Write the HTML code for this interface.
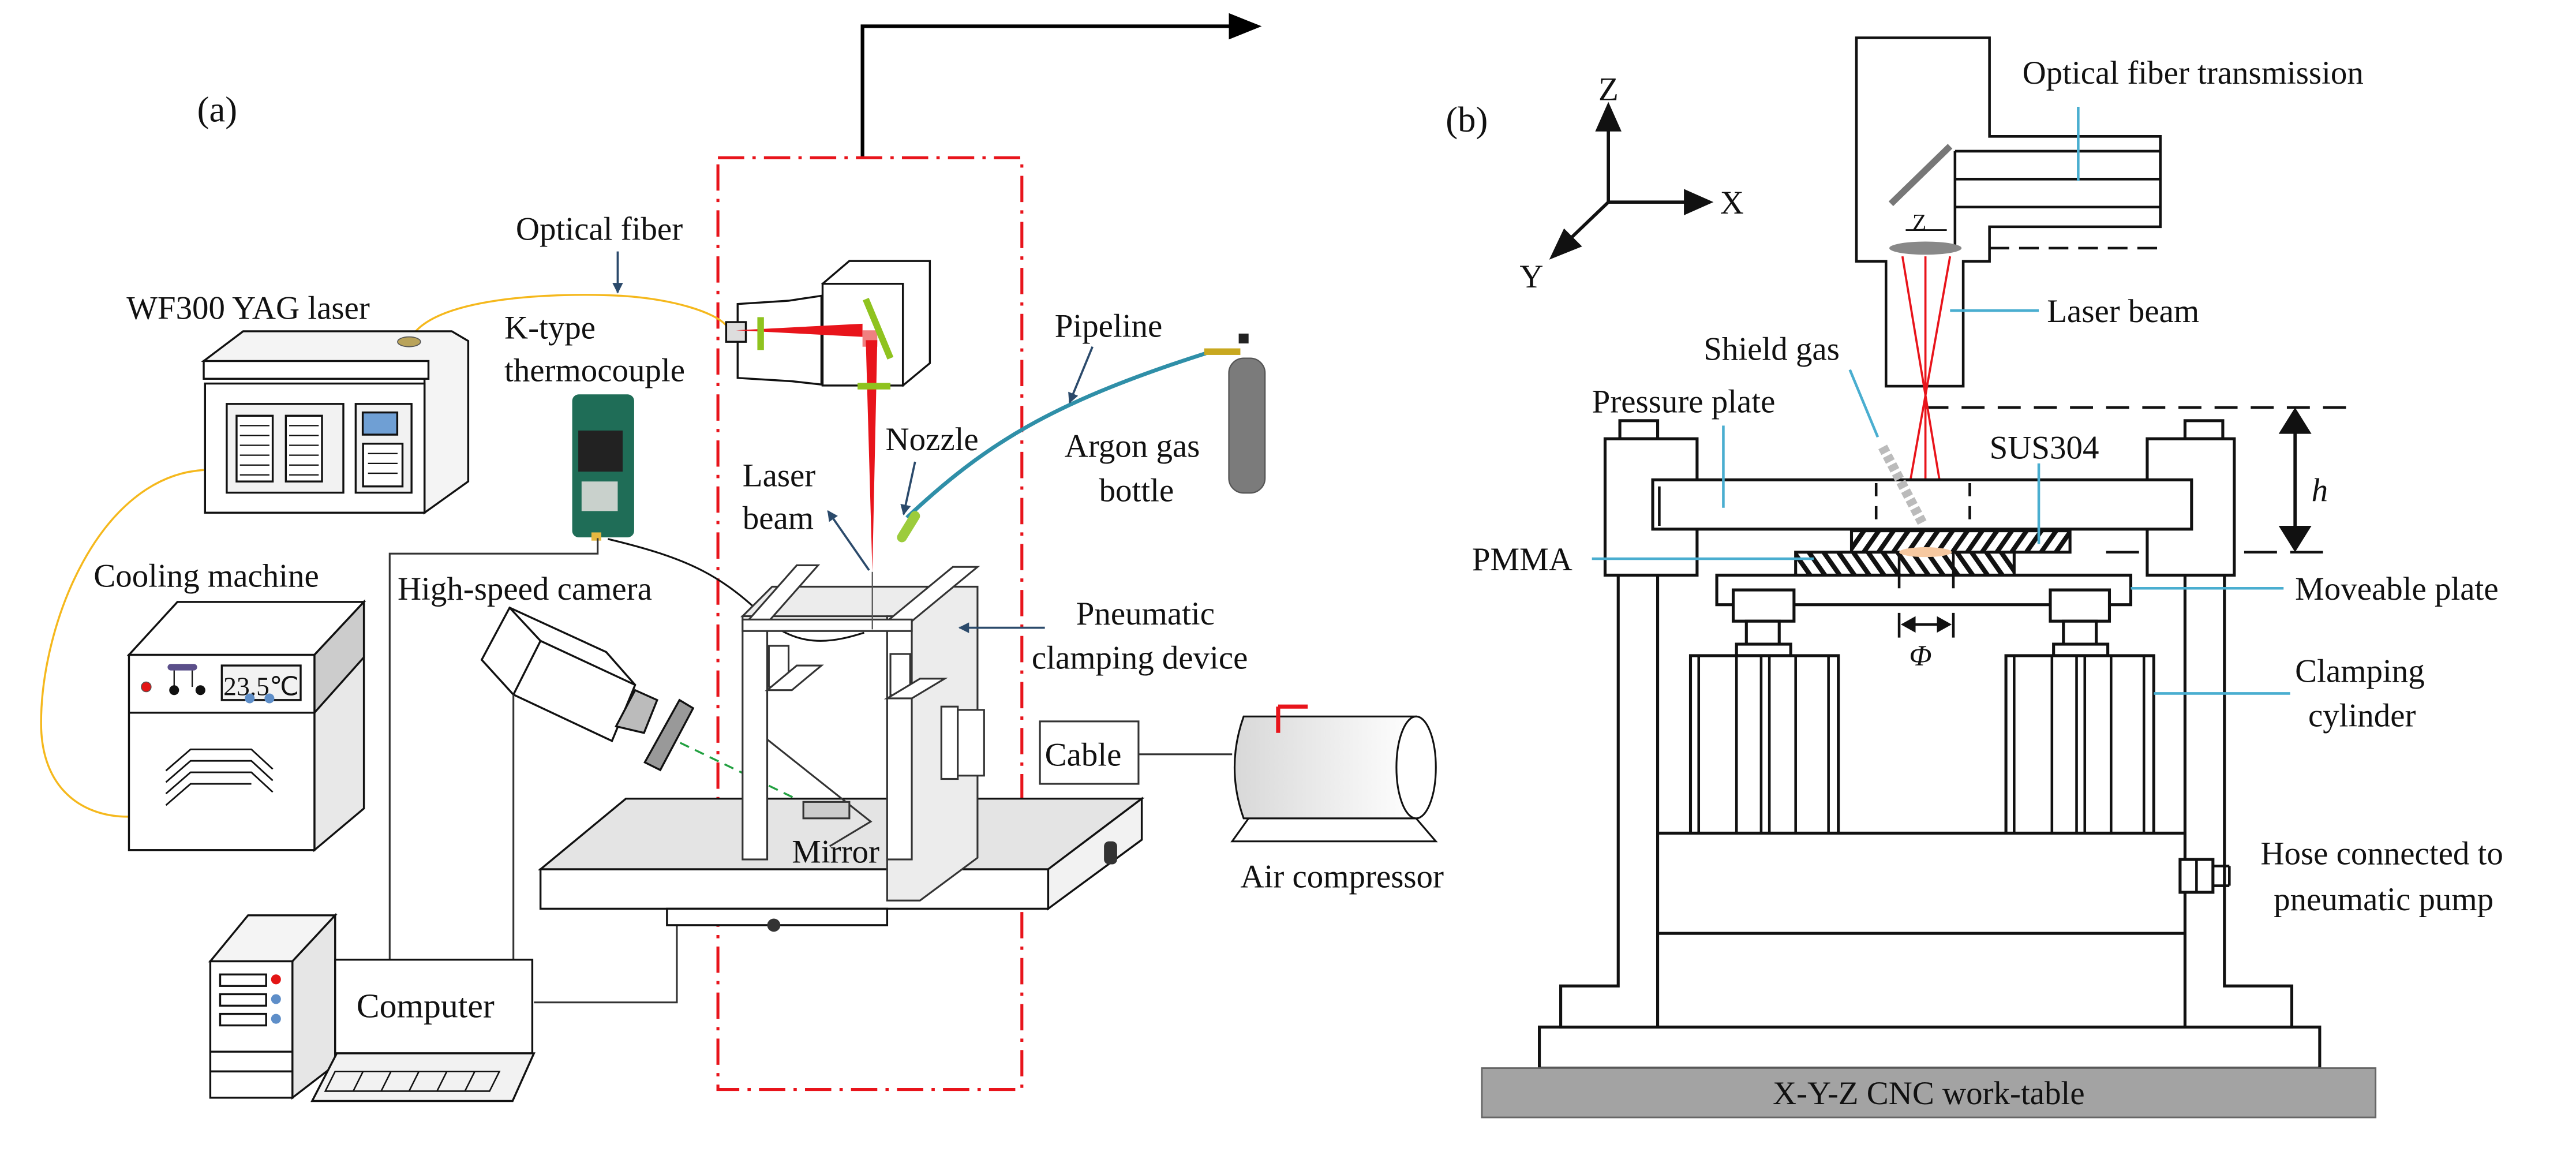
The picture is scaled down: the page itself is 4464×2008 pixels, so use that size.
<!DOCTYPE html>
<html><head><meta charset="utf-8"><style>
html,body{margin:0;padding:0;background:#fff}
svg{display:block}
text{font-family:"Liberation Serif","Times New Roman",serif !important;fill:#111}
</style></head><body>
<svg width="4464" height="2008" viewBox="0 0 1568 705.3" preserveAspectRatio="none" xmlns="http://www.w3.org/2000/svg" font-family="Liberation Serif, serif">
<defs>
<marker id="ab" viewBox="0 0 10 10" refX="9" refY="5" markerWidth="5" markerHeight="5" orient="auto"><path d="M0,0L10,5L0,10z" fill="#2b4a6b"/></marker>
<pattern id="h1" width="9" height="14" patternUnits="userSpaceOnUse" patternTransform="skewX(-35)"><rect width="9" height="14" fill="#fff"/><rect width="3.5" height="14" fill="#111"/></pattern>
<pattern id="h2" width="9" height="14" patternUnits="userSpaceOnUse" patternTransform="skewX(35)"><rect width="9" height="14" fill="#fff"/><rect width="3.5" height="14" fill="#111"/></pattern>
<linearGradient id="gc" x1="0" x2="1"><stop offset="0" stop-color="#d8d8d8"/><stop offset="1" stop-color="#fff"/></linearGradient>
</defs>

<!-- ===== Panel (a) ===== -->
<text x="120" y="74" font-size="22">(a)</text>
<path d="M525,96 V16 H750" fill="none" stroke="#000" stroke-width="2.2"/>
<path d="M748,8 L768,16 L748,24 z" fill="#000"/>
<rect x="437" y="96" width="185" height="567" fill="none" stroke="#e8141b" stroke-width="1.8" stroke-dasharray="16,5,2,5"/>

<text x="314" y="146" font-size="20">Optical fiber</text>
<line x1="376" y1="153" x2="376" y2="178" stroke="#2b4a6b" stroke-width="1.3" marker-end="url(#ab)"/>
<text x="77" y="194" font-size="20">WF300 YAG laser</text>
<text x="307" y="206" font-size="20">K-type</text>
<text x="307" y="232" font-size="20">thermocouple</text>
<text x="57" y="357" font-size="20">Cooling machine</text>
<text x="242" y="365" font-size="20">High-speed camera</text>
<text x="539" y="274" font-size="20">Nozzle</text>
<text x="452" y="296" font-size="20">Laser</text>
<text x="452" y="322" font-size="20">beam</text>
<text x="642" y="205" font-size="20">Pipeline</text>
<text x="648" y="278" font-size="20">Argon gas</text>
<text x="669" y="305" font-size="20">bottle</text>
<text x="655" y="380" font-size="20">Pneumatic</text>
<text x="628" y="407" font-size="20">clamping device</text>

<path d="M249,208 C260,180 340,178 378,180 C410,182 435,190 442,198" fill="none" stroke="#f5b81c" stroke-width="1.2"/>
<path d="M124,286 C60,290 25,380 25,440 C25,480 50,497 78,497" fill="none" stroke="#f5b81c" stroke-width="1.2"/>

<!-- laser machine -->
<g stroke="#111" stroke-width="1.2" fill="#fff">
<path d="M124,219.7 L148,201.6 L275,201.6 L285,207.5 L285,293 L258.4,312 L258.4,230.5 z" fill="#f4f4f4"/>
<rect x="124" y="219.7" width="136.8" height="10.8"/>
<rect x="124.8" y="233.4" width="133.6" height="78.6"/>
<rect x="138" y="245.8" width="71" height="54" fill="#f2f2f2"/>
<rect x="144" y="253" width="22" height="40"/><rect x="174" y="253" width="22" height="40"/>
<rect x="216.5" y="245.8" width="34" height="54" fill="#f2f2f2"/>
<rect x="220.8" y="251" width="21" height="13.5" fill="#6f9fd4"/>
<rect x="221" y="270" width="24" height="26"/>
</g>
<g stroke="#111" stroke-width="0.8">
<line x1="146" y1="259" x2="164" y2="259"/><line x1="146" y1="265" x2="164" y2="265"/><line x1="146" y1="271" x2="164" y2="271"/><line x1="146" y1="277" x2="164" y2="277"/><line x1="146" y1="283" x2="164" y2="283"/><line x1="146" y1="289" x2="164" y2="289"/>
<line x1="176" y1="259" x2="194" y2="259"/><line x1="176" y1="265" x2="194" y2="265"/><line x1="176" y1="271" x2="194" y2="271"/><line x1="176" y1="277" x2="194" y2="277"/><line x1="176" y1="283" x2="194" y2="283"/><line x1="176" y1="289" x2="194" y2="289"/>
<line x1="224" y1="276" x2="242" y2="276"/><line x1="224" y1="282" x2="242" y2="282"/><line x1="224" y1="288" x2="242" y2="288"/>
</g>
<ellipse cx="249" cy="208" rx="7" ry="3" fill="#b9a35a" stroke="#555" stroke-width="0.6"/>

<!-- thermocouple -->
<rect x="348.3" y="240" width="37.7" height="87" rx="4" fill="#1f6d57"/>
<rect x="352" y="262" width="27" height="25" fill="#222"/>
<rect x="354" y="293" width="22" height="18" fill="#c9d1cc"/>
<rect x="360" y="324" width="6" height="5" fill="#e6b840"/>

<!-- cooling machine -->
<g stroke="#111" stroke-width="1.2">
<path d="M78.5,398.5 L108,366.3 L221.5,366.3 L191.4,398.5 z" fill="#fff"/>
<path d="M191.4,398.5 L221.5,366.3 L221.5,492 L191.4,517.3 z" fill="#e8e8e8"/>
<path d="M191.4,398.5 L221.5,366.3 L221.5,400 L191.4,433.7 z" fill="#ccc"/>
<rect x="78.5" y="398.5" width="112.9" height="118.8" fill="#fff"/>
<line x1="78.5" y1="433.7" x2="191.4" y2="433.7"/>
<rect x="135" y="405" width="48" height="21" fill="#f2f2f2"/>
</g>
<text x="136" y="423" font-size="16">23.5℃</text>
<circle cx="89" cy="418" r="3" fill="#e31414" stroke="#555" stroke-width="0.5"/>
<rect x="102" y="404" width="18" height="4" rx="2" fill="#5b4f8a"/>
<g stroke="#111" stroke-width="0.8"><line x1="106" y1="408" x2="106" y2="418"/><line x1="117" y1="408" x2="117" y2="418"/></g>
<circle cx="106" cy="420" r="3" fill="#111"/><circle cx="122" cy="420" r="3" fill="#111"/>
<circle cx="152" cy="425" r="3" fill="#5e8ec8"/><circle cx="164" cy="425" r="3" fill="#5e8ec8"/>
<g fill="none" stroke="#111" stroke-width="1">
<path d="M101,469 L116,456 H153 L166,468"/><path d="M101,476 L116,463 H153 L166,475"/><path d="M101,483 L116,470 H153 L166,482"/><path d="M101,490 L116,477 H153"/>
</g>

<!-- camera -->
<g stroke="#111" stroke-width="1.2" fill="#fff">
<path d="M310.2,369.8 L369,396.8 L386.6,416.8 L372.5,450.9 L312.5,422.7 L293.2,401.5 z"/>
<path d="M329,390 L312.5,422.7" fill="none"/><path d="M310.2,369.8 L329,390 L386.6,416.8" fill="none"/>
<path d="M386.6,420 L400,426 L392,446 L375,442 z" fill="#bbb"/>
<path d="M413.6,426 L421.9,431 L401.9,468.6 L392.5,463.9 z" fill="#999"/>
</g>
<line x1="414" y1="452" x2="507" y2="497" stroke="#22a040" stroke-width="1.2" stroke-dasharray="6,4"/>

<g fill="none" stroke="#333" stroke-width="1.1">
<path d="M363.8,327.5 V336.9 H237.2 V585"/>
<path d="M312.5,422.7 V585"/>
<path d="M325,610 H412 V562"/>
<path d="M690,459 H750"/>
</g>
<path d="M370,328 C420,340 440,350 470,380 C490,395 510,390 526,385" fill="none" stroke="#111" stroke-width="1.1"/>

<!-- computer -->
<g stroke="#111" stroke-width="1.2" fill="#fff">
<path d="M128,585 L151,557 L204,557 L178,585 z" fill="#f4f4f4"/>
<path d="M178,585 L204,557 L204,648 L178,668 z" fill="#e6e6e6"/>
<rect x="128" y="585" width="50" height="83"/>
<rect x="134" y="593" width="28" height="7"/><rect x="134" y="605" width="28" height="7"/><rect x="134" y="617" width="28" height="7"/>
<line x1="128" y1="640" x2="178" y2="640"/><line x1="128" y1="652" x2="178" y2="652"/>
<rect x="204" y="584" width="120" height="57" fill="#fff"/>
<path d="M205,641 H325 L312,670 H190 z" fill="#f2f2f2"/>
</g>
<circle cx="168" cy="596" r="3" fill="#e31414"/><circle cx="168" cy="608" r="3" fill="#5e8ec8"/><circle cx="168" cy="620" r="3" fill="#5e8ec8"/>
<g stroke="#111" stroke-width="0.9" fill="none"><path d="M204,652 H304 L298,664 H198 z"/><path d="M221,652 L215,664 M238,652 L232,664 M255,652 L249,664 M272,652 L266,664 M289,652 L283,664"/></g>
<text x="217" y="619" font-size="21">Computer</text>

<!-- table -->
<g stroke="#111" stroke-width="1.2">
<path d="M329,529 L381,486 L695,486 L638,529 z" fill="#e4e4e4"/>
<path d="M638,529 L695,486 L695,511 L638,553 z" fill="#f2f2f2"/>
<rect x="329" y="529" width="309" height="24" fill="#fff"/>
<rect x="406" y="553" width="134" height="10" fill="#fff"/>
</g>
<rect x="672" y="512" width="8" height="14" rx="3" fill="#333"/>
<circle cx="471" cy="563" r="4" fill="#333"/>

<!-- clamping device -->
<g stroke="#333" stroke-width="1.1">
<path d="M452,375 L470,357 L595,357 L595,522 L560,548 L540,548 L540,375 z" fill="#ececec"/>
<rect x="452" y="375" width="15" height="148" fill="#fff"/>
<rect x="540" y="375" width="15" height="148" fill="#fff"/>
<path d="M455,378 L485,344 L498,344 L468,378 z" fill="#fff"/>
<path d="M540,378 L580,345 L595,345 L555,378 z" fill="#fff"/>
<rect x="452" y="377" width="103" height="7" fill="#fff"/>
<path d="M468,393 H480 V418 H468 z" fill="#fff"/><path d="M542,398 H554 V423 H542 z" fill="#fff"/>
<path d="M467,420 L485,405 H500 L482,420 z" fill="#fff"/>
<path d="M540,425 L560,413 H575 L555,425 z" fill="#fff"/>
<path d="M467,450 L530,500 L505,515" fill="none"/>
<rect x="489" y="488" width="28" height="10" fill="#ccc"/>
<rect x="573" y="430" width="10" height="44" fill="#fff"/><rect x="583" y="432" width="16" height="40" fill="#fff"/>
<rect x="633" y="439" width="60" height="38" fill="#fff"/>
</g>
<text x="636" y="466" font-size="20">Cable</text>
<text x="482" y="525" font-size="20">Mirror</text>

<!-- laser head -->
<g stroke="#111" stroke-width="1.2">
<path d="M449,185 L480,183 L500,180 L500,234 L482,232 L449,230 z" fill="#fff"/>
<rect x="442" y="196" width="12" height="12" fill="#ddd"/>
<path d="M500.7,172.7 L517,158.8 L566,158.8 L566,221 L549.6,234.6 z" fill="#fff"/>
<rect x="500.7" y="172.7" width="48.9" height="61.9" fill="#fff"/>
</g>
<path d="M448,201 L525,197 L525,205 z" fill="#e8141b"/>
<rect x="525" y="201" width="9" height="10" fill="#f08080"/>
<path d="M527,207 L534,207 L531,348 z" fill="#e8141b"/>
<line x1="531" y1="348" x2="531" y2="383" stroke="#555" stroke-width="0.8"/>
<line x1="527" y1="182" x2="542" y2="218" stroke="#8fc31f" stroke-width="4"/>
<rect x="522" y="233" width="20" height="4" fill="#8fc31f"/>
<rect x="461" y="193" width="4" height="20" fill="#8fc31f"/>

<!-- nozzle & pipe -->
<path d="M552,315 C600,270 640,245 734,215" fill="none" stroke="#2f8fa8" stroke-width="2.4"/>
<line x1="549" y1="327" x2="557" y2="314" stroke="#9ccc3c" stroke-width="6" stroke-linecap="round"/>
<rect x="748" y="218" width="22" height="82" rx="9" fill="#7b7b7b" stroke="#555" stroke-width="0.8"/>
<rect x="733" y="212" width="22" height="4" fill="#c8a820"/>
<rect x="754" y="203" width="6" height="6" fill="#222"/>
<line x1="665" y1="211" x2="651" y2="245" stroke="#2b4a6b" stroke-width="1.3" marker-end="url(#ab)"/>
<line x1="557" y1="281" x2="550" y2="313" stroke="#2b4a6b" stroke-width="1.3" marker-end="url(#ab)"/>
<line x1="529" y1="347" x2="504" y2="311" stroke="#2b4a6b" stroke-width="1.3" marker-end="url(#ab)"/>
<line x1="636" y1="382" x2="584" y2="382" stroke="#2b4a6b" stroke-width="1.3" marker-end="url(#ab)"/>

<!-- compressor -->
<g stroke="#111" stroke-width="1.1">
<path d="M750,512 L760,498 L862,498 L874,512 z" fill="#fff"/>
<path d="M757,436 H862 V498 H757 Q746,467 757,436 z" fill="url(#gc)"/>
<ellipse cx="862" cy="467" rx="12" ry="31" fill="#fff"/>
</g>
<path d="M778,430 V446 M778,430 H796" stroke="#e8141b" stroke-width="2.5" fill="none"/>
<text x="755" y="540" font-size="20">Air compressor</text>

<!-- ===== Panel (b) ===== -->
<text x="880" y="80" font-size="22">(b)</text>
<g stroke="#111" stroke-width="2">
<line x1="979" y1="123" x2="979" y2="78"/><line x1="979" y1="123" x2="1030" y2="123"/><line x1="979" y1="123" x2="955" y2="146"/>
</g>
<path d="M979,62 L971,80 L987,80 z M1043,123 L1025,115 L1025,131 z M943,158 L952,139 L963,150 z" fill="#111"/>
<text x="973" y="61" font-size="20">Z</text><text x="1047" y="130" font-size="20">X</text><text x="925" y="175" font-size="20">Y</text>

<g fill="none" stroke="#111" stroke-width="1.6">
<path d="M1130,23 H1211 V83 H1315 V138 H1211 V159 H1195 V235 H1148 V159 H1130 z"/>
<line x1="1190" y1="92" x2="1315" y2="92"/><line x1="1190" y1="109" x2="1315" y2="109"/><line x1="1190" y1="126" x2="1315" y2="126"/>
<line x1="1190" y1="92" x2="1190" y2="150"/>
<line x1="1211" y1="151" x2="1316" y2="151" stroke-dasharray="12,6"/>
<line x1="1172" y1="248" x2="1431" y2="248" stroke-dasharray="14,8"/>
<line x1="1282" y1="336" x2="1417" y2="336" stroke-dasharray="20,8"/>
<line x1="1160" y1="140" x2="1185" y2="140" stroke-width="1"/>
</g>
<line x1="1151" y1="124" x2="1187" y2="89" stroke="#777" stroke-width="4"/>
<ellipse cx="1172" cy="151" rx="22" ry="4" fill="#888"/>
<text x="1164" y="140" font-size="14">Z</text>
<g stroke="#e8141b" stroke-width="1.3">
<line x1="1158" y1="156" x2="1187" y2="331"/><line x1="1187" y1="156" x2="1156" y2="331"/><line x1="1172" y1="156" x2="1172" y2="331"/>
</g>
<line x1="1397" y1="262" x2="1397" y2="324" stroke="#111" stroke-width="2"/>
<path d="M1397,248 L1387,264 L1407,264 z M1397,336 L1387,320 L1407,320 z" fill="#111"/>
<text x="1407" y="305" font-size="20" font-style="italic">h</text>

<g fill="#fff" stroke="#111" stroke-width="1.8">
<rect x="937" y="625" width="475" height="25"/>
<path d="M985,350 V600 H950 V625 H1009 V350 z"/>
<path d="M1354,350 V600 H1395 V625 H1330 V350 z"/>
<rect x="1009" y="507" width="321" height="61"/>
<rect x="1009" y="568" width="321" height="57"/>
<rect x="986" y="256" width="23" height="11"/><rect x="1330" y="256" width="23" height="11"/>
<rect x="977" y="267" width="56" height="83"/><rect x="1307" y="267" width="53" height="83"/>
<rect x="1006" y="292" width="328" height="30"/>
<rect x="1045" y="350" width="252" height="18"/>
<rect x="1055" y="359" width="37" height="19"/><rect x="1248" y="359" width="36" height="19"/>
<rect x="1063" y="378" width="20" height="16"/><rect x="1256" y="378" width="20" height="16"/>
<rect x="1057" y="392" width="33" height="7"/><rect x="1250" y="392" width="33" height="7"/>
<rect x="1029" y="399" width="90" height="108"/><rect x="1221" y="399" width="90" height="108"/>
<rect x="1127" y="323" width="133" height="13" fill="url(#h1)"/>
<rect x="1093" y="336" width="133" height="14" fill="url(#h2)"/>
<rect x="1327" y="523" width="20" height="20"/>
</g>
<g stroke="#111" stroke-width="1.6">
<line x1="1034" y1="399" x2="1034" y2="507"/><line x1="1057" y1="399" x2="1057" y2="507"/><line x1="1072" y1="399" x2="1072" y2="507"/><line x1="1077" y1="399" x2="1077" y2="507"/><line x1="1093" y1="399" x2="1093" y2="507"/><line x1="1113" y1="399" x2="1113" y2="507"/>
<line x1="1226" y1="399" x2="1226" y2="507"/><line x1="1249" y1="399" x2="1249" y2="507"/><line x1="1264" y1="399" x2="1264" y2="507"/><line x1="1269" y1="399" x2="1269" y2="507"/><line x1="1285" y1="399" x2="1285" y2="507"/><line x1="1305" y1="399" x2="1305" y2="507"/>
<line x1="1010" y1="296" x2="1010" y2="320"/>
<line x1="1142" y1="294" x2="1142" y2="320" stroke-dasharray="8,6"/><line x1="1199" y1="294" x2="1199" y2="320" stroke-dasharray="8,6"/>
<line x1="1156" y1="336" x2="1156" y2="358"/><line x1="1189" y1="336" x2="1189" y2="358"/>
<line x1="1156" y1="373" x2="1156" y2="388"/><line x1="1189" y1="373" x2="1189" y2="388"/>
<line x1="1163" y1="380" x2="1182" y2="380"/>
<path d="M1347,527 H1357 M1347,539 H1357 M1357,527 V539" fill="none"/>
<line x1="1337" y1="523" x2="1337" y2="543"/>
</g>
<path d="M1157,380 L1166,375 L1166,385 z M1188,380 L1179,375 L1179,385 z" fill="#111"/>
<ellipse cx="1172" cy="336" rx="16" ry="3" fill="#f6c8a0"/>
<line x1="1146" y1="272" x2="1170" y2="318" stroke="#bbb" stroke-width="6" stroke-dasharray="4,2"/>
<text x="1169" y="405" font-size="18" font-style="italic" text-anchor="middle">Φ</text>
<rect x="902" y="650" width="544" height="30" fill="#a3a3a3" stroke="#666" stroke-width="1"/>
<text x="1174" y="672" font-size="20" text-anchor="middle">X-Y-Z CNC work-table</text>

<g stroke="#4aaed0" stroke-width="1.6">
<line x1="1265" y1="65" x2="1265" y2="110"/>
<line x1="1187" y1="189" x2="1241" y2="189"/>
<line x1="1126" y1="225" x2="1143" y2="266"/>
<line x1="1049" y1="259" x2="1049" y2="309"/>
<line x1="1241" y1="282" x2="1241" y2="331"/>
<line x1="969" y1="340" x2="1104" y2="340"/>
<line x1="1297" y1="358" x2="1390" y2="358"/>
<line x1="1311" y1="422" x2="1394" y2="422"/>
</g>
<text x="1231" y="51" font-size="20">Optical fiber transmission</text>
<text x="1246" y="196" font-size="20">Laser beam</text>
<text x="1037" y="219" font-size="20">Shield gas</text>
<text x="969" y="251" font-size="20">Pressure plate</text>
<text x="1211" y="279" font-size="20">SUS304</text>
<text x="896" y="347" font-size="20">PMMA</text>
<text x="1397" y="365" font-size="20">Moveable plate</text>
<text x="1397" y="415" font-size="20">Clamping</text>
<text x="1405" y="442" font-size="20">cylinder</text>
<text x="1376" y="526" font-size="20">Hose connected to</text>
<text x="1384" y="554" font-size="20">pneumatic pump</text>
</svg>
</body></html>
